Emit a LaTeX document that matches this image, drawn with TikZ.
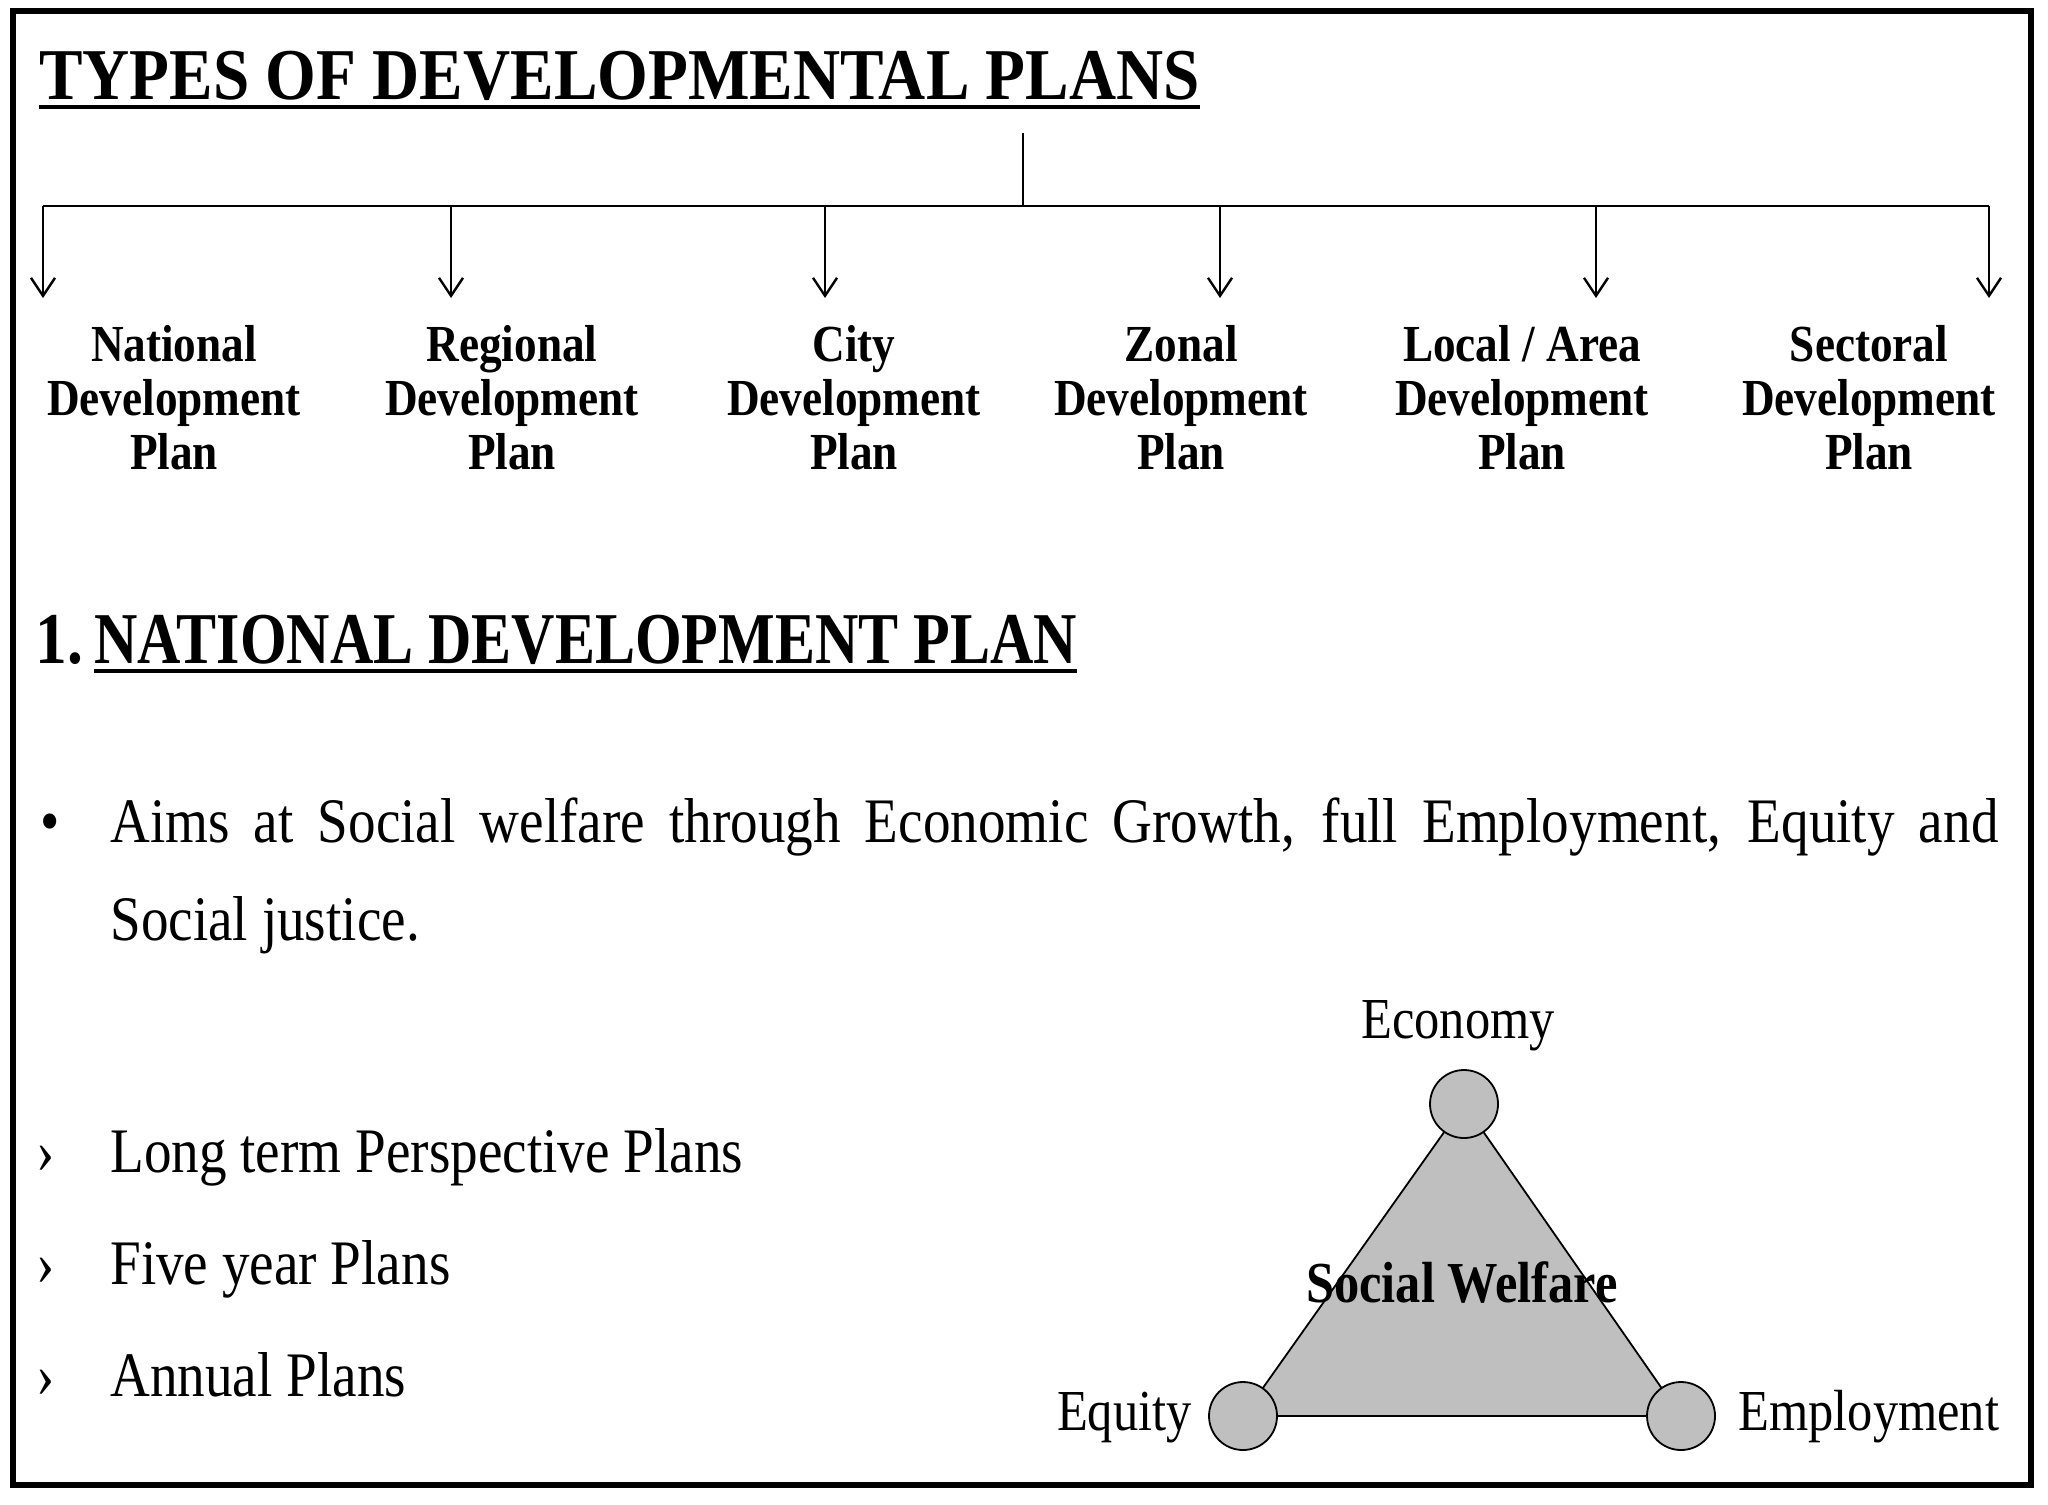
\documentclass[tikz,border=0pt]{standalone}
\usepackage{fontspec}
\setmainfont{Liberation Serif}[FakeStretch=0.87]
\usetikzlibrary{arrows.meta}
\begin{document}
\begin{tikzpicture}[x=0.5pt,y=-0.5pt,
  head/.style={anchor=base west,inner sep=0pt,font=\bfseries\fontsize{36.5}{40}\selectfont},
  plan/.style={anchor=north,inner sep=0pt,align=center,font=\bfseries\fontsize{26}{27}\selectfont},
  body/.style={anchor=base west,inner sep=0pt,font=\fontsize{31.7}{38}\selectfont},
  conn/.style={line width=1.4pt},
  arr/.style={conn,-{Straight Barb[length=9pt,width=12pt,line width=1.2pt]}},
  circ/.style={circle,draw,line width=0.9pt,fill=black!25,minimum size=34pt,inner sep=0pt},
  lbl/.style={inner sep=0pt,font=\fontsize{29}{34}\selectfont}]
\useasboundingbox (0,0) rectangle (2048,1504);
\draw[line width=3pt] (13,11) rectangle (2031,1485);

% title
\node[head] (title) at (39,99) {\scalebox{1.027}[1]{TYPES OF DEVELOPMENTAL PLANS}};
\draw[line width=2pt] ([yshift=-4pt]title.base west) -- ([yshift=-4pt]title.base east);

% tree connectors
\coordinate (root) at (1023,133);
\coordinate (hub) at (1023,206);
\coordinate (bL) at (43,206);
\coordinate (bR) at (1989,206);
\draw[conn] (root) -- (hub);
\draw[conn] (bL) -- (bR);
\foreach \n/\x in {a/43,b/451,c/825,d/1220,e/1596,f/1989}{
  \coordinate (s\n) at (\x,206);
  \coordinate (t\n) at (\x,298);
  \draw[arr] (s\n) -- (t\n);
}

% plan labels
\node[plan] (pa) at (174,325) {National\\Development\\Plan};
\node[plan] (pb) at (512,325) {Regional\\Development\\Plan};
\node[plan] (pc) at (854,325) {City\\Development\\Plan};
\node[plan] (pd) at (1181,325) {Zonal\\Development\\Plan};
\node[plan] (pe) at (1522,325) {Local / Area\\Development\\Plan};
\node[plan] (pf) at (1869,325) {Sectoral\\Development\\Plan};

% section heading
\node[head] (hnum) at (35,663) {1.};
\node[head] (htext) at (94,663) {\scalebox{0.945}[1]{NATIONAL DEVELOPMENT PLAN}};
\draw[line width=2pt] ([yshift=-4pt]htext.base west) -- ([yshift=-4pt]htext.base east);

% bullet paragraph
\node[body] (bul) at (40,842) {•};
\node[body] (p1) at (110,842) {\makebox[944pt][s]{Aims at Social welfare through Economic Growth, full Employment, Equity and}};
\node[body] (p2) at (110,940) {Social justice.};

% sub items
\node[body] (m1) at (36,1172) {›};
\node[body] (i1) at (110,1172) {Long term Perspective Plans};
\node[body] (m2) at (36,1284) {›};
\node[body] (i2) at (110,1284) {Five year Plans};
\node[body] (m3) at (36,1396) {›};
\node[body] (i3) at (110,1396) {Annual Plans};

% triangle
\coordinate (ecoC) at (1464,1104);
\coordinate (eqC) at (1243,1416);
\coordinate (emC) at (1681,1416);
\filldraw[fill=black!25,line width=0.9pt] (ecoC) -- (eqC) -- (emC) -- cycle;
\node[circ] (eco) at (ecoC) {};
\node[circ] (eq) at (eqC) {};
\node[circ] (em) at (emC) {};
\node[lbl,anchor=base] (ecol) at (1458,1038) {Economy};
\node[lbl,anchor=base east] (eql) at (1192,1430) {Equity};
\node[lbl,anchor=base west] (eml) at (1738,1430) {Employment};
\node[inner sep=0pt,anchor=base,font=\bfseries\fontsize{29}{32}\selectfont] (sw) at (1462,1302) {Social Welfare};
\end{tikzpicture}
\end{document}
